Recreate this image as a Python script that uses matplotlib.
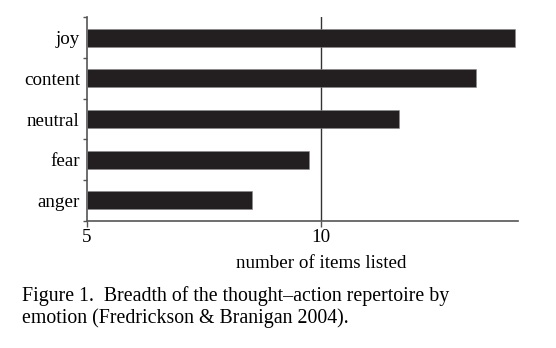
import matplotlib
matplotlib.use("Agg")
import matplotlib.pyplot as plt
import numpy as np

# Data
emotions = ["joy", "content", "neutral", "fear", "anger"]
items_listed = [14.13, 13.29, 11.65, 9.74, 8.53]
x_ticks = [5, 10]

plt.rcParams["font.family"] = ["Liberation Serif", "DejaVu Serif"]

fig = plt.figure(figsize=(5.56, 3.48), dpi=100)
ax = fig.add_axes([0.156, 0.366, 0.776, 0.584])

y = np.arange(len(emotions))[::-1]  # joy on top
x0 = 5
ax.barh(y, np.array(items_listed) - x0, left=x0, height=0.44,
        color="#231f20", edgecolor="#8a8a8a", linewidth=0.4, zorder=3)

# vertical reference line at 10
ax.axvline(10, color="#333333", linewidth=1.0, zorder=2)

ax.set_xlim(5, 14.2)
ax.set_ylim(-0.5, len(emotions) - 0.5)

# category labels, ticks at band boundaries
ax.set_yticks(y)
ax.set_yticklabels(emotions, fontsize=13.7)
ax.set_yticks(np.arange(-0.5, len(emotions)), minor=True)
ax.tick_params(axis="y", which="major", length=0, pad=5)
ax.tick_params(axis="y", which="minor", length=3, width=1, color="#555555")

ax.set_xticks(x_ticks)
ax.set_xticklabels([str(t) for t in x_ticks], fontsize=13.7)
ax.tick_params(axis="x", length=4, width=1, color="#555555", pad=2)

for side in ["top", "right"]:
    ax.spines[side].set_visible(False)
for side in ["left", "bottom"]:
    ax.spines[side].set_color("#555555")
    ax.spines[side].set_linewidth(1.2)

# axis title centred under 10
fig.text(321.5 / 556, 1 - 263 / 348, "number of items listed",
         ha="center", va="center", fontsize=13.7)

# caption
fig.text(22.5 / 556, 1 - 296 / 348,
         "Figure 1.  Breadth of the thought\u2013action repertoire by",
         ha="left", va="center", fontsize=14.3)
fig.text(22.5 / 556, 1 - 318 / 348,
         "emotion (Fredrickson & Branigan 2004).",
         ha="left", va="center", fontsize=14.3)

fig.savefig("out.png", dpi=100)
